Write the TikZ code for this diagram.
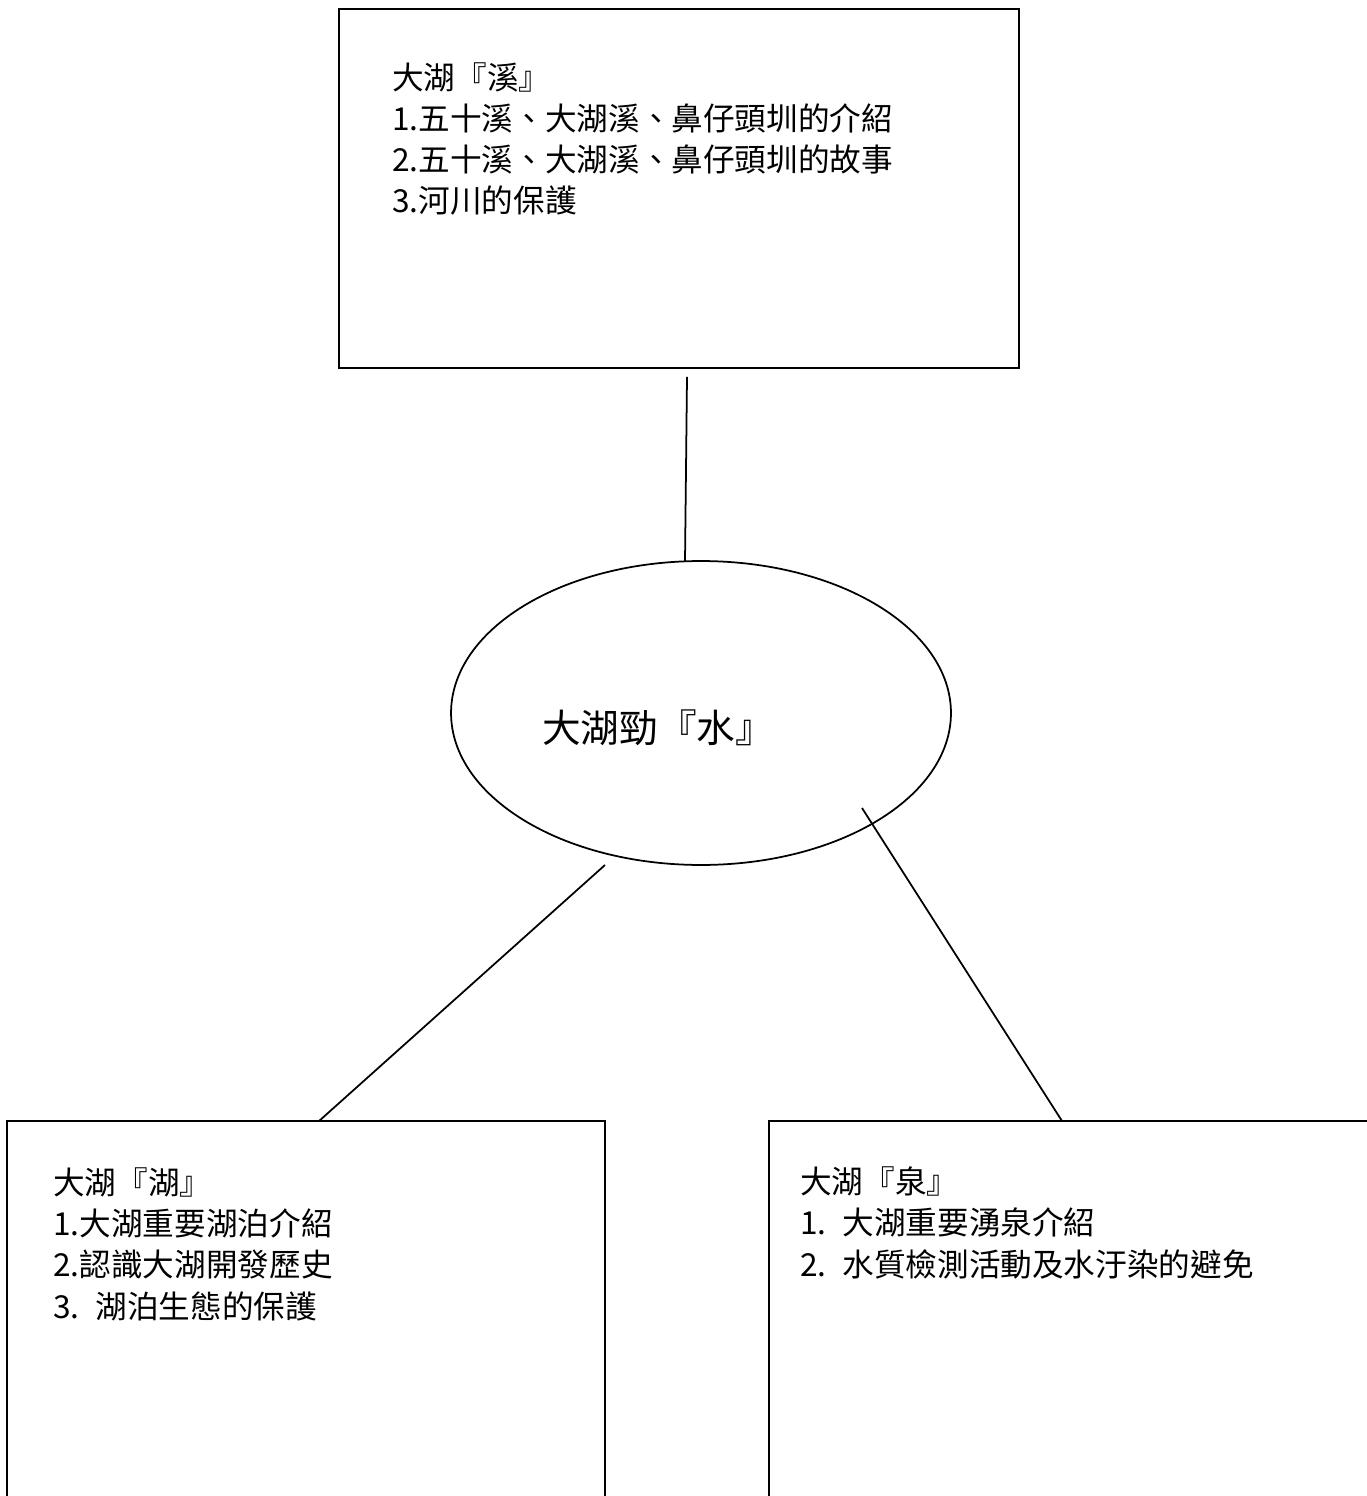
\documentclass[tikz,border=0pt]{standalone}
\usepackage{fontspec}
\setmainfont{Noto Sans CJK TC}
\usetikzlibrary{shapes.geometric}

\tikzset{
    topicbox/.style={draw, line width=1pt, inner sep=0pt, outer sep=0pt},
    topiclist/.style={anchor=base west, align=left, inner sep=0pt,
        font=\fontsize{18pt}{23.5pt}\selectfont},
    hub/.style={draw, ellipse, line width=1pt, inner sep=0pt, outer sep=0pt,
        minimum width=10cm, minimum height=6.08cm},
    link/.style={line width=1pt}
}

\begin{document}
\begin{tikzpicture}[x=0.02cm, y=-0.02cm]
        \useasboundingbox (0,0) rectangle (1366,1496);

        \node[hub] (water) at (701,713) {};
        \node[anchor=base, inner sep=0pt, font=\fontsize{22pt}{26pt}\selectfont] (watername) at (658,742) {大湖勁『水』};

        \node[topicbox, minimum width=13.6cm, minimum height=7.18cm] (creek) at (679,188.5) {};
        \node[topicbox, minimum width=11.96cm, minimum height=7.98cm] (lake) at (306,1320.5) {};
        \node[topicbox, minimum width=12.22cm, minimum height=7.98cm] (spring) at (1074.5,1320.5) {};

        \node[topiclist] (creektext) at (392,213) {大湖『溪』\\
            1.五十溪、大湖溪、鼻仔頭圳的介紹\\
            2.五十溪、大湖溪、鼻仔頭圳的故事\\
            3.河川的保護};
        \node[topiclist] (laketext) at (53,1318) {大湖『湖』\\
            1.大湖重要湖泊介紹\\
            2.認識大湖開發歷史\\
            3.\hspace{.5em}湖泊生態的保護};
        \node[topiclist] (springtext) at (800,1276) {大湖『泉』\\
            1.\hspace{.5em}大湖重要湧泉介紹\\
            2.\hspace{.5em}水質檢測活動及水汙染的避免};

        \draw[link] ([shift={(8,9)}]creek.south) -- ([shift={(-16,0)}]water.north);
        \draw[link] ([shift={(-96,152)}]water.center) -- ([shift={(13,0)}]lake.north);
        \draw[link] ([shift={(161,95)}]water.center) -- ([shift={(-12.5,0)}]spring.north);
\end{tikzpicture}
\end{document}
